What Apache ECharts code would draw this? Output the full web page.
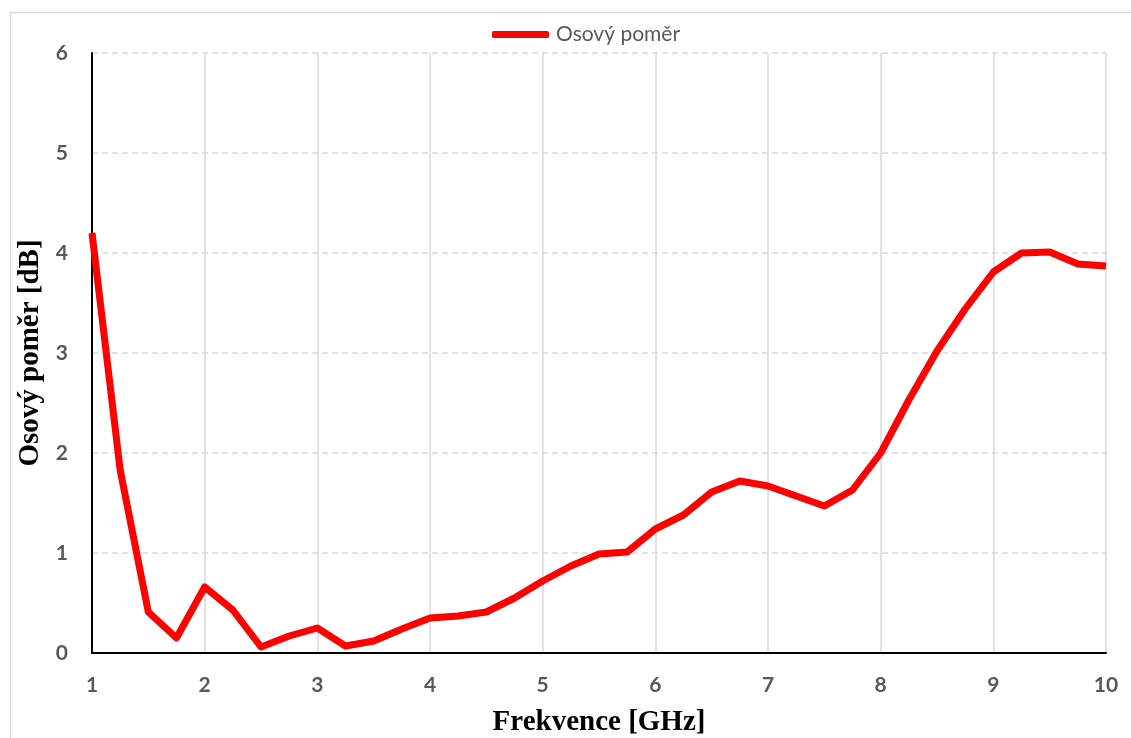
<!DOCTYPE html>
<html>
<head>
<meta charset="utf-8">
<script src="https://cdn.jsdelivr.net/npm/echarts@6/dist/echarts.min.js"></script>
<style>html,body{margin:0;padding:0;background:#fff;}#c{width:1131px;height:738px;}</style>
</head>
<body>
<div id="c"></div>
<script>
const freqs = [1,1.25,1.5,1.75,2,2.25,2.5,2.75,3,3.25,3.5,3.75,4,4.25,4.5,4.75,5,5.25,5.5,5.75,6,6.25,6.5,6.75,7,7.25,7.5,7.75,8,8.25,8.5,8.75,9,9.25,9.5,9.75,10];
const axialRatio = [4.2,1.83,0.41,0.15,0.66,0.43,0.06,0.17,0.25,0.07,0.12,0.24,0.35,0.37,0.41,0.55,0.72,0.87,0.99,1.01,1.24,1.38,1.61,1.72,1.67,1.57,1.47,1.63,2.0,2.53,3.02,3.44,3.81,4.0,4.01,3.89,3.87];
const seriesName = 'Osový poměr';
const xTitle = 'Frekvence [GHz]';
const yTitle = 'Osový poměr [dB]';

const chart = echarts.init(document.getElementById('c'));
chart.setOption({
  animation: false,
  backgroundColor: '#fff',
  graphic: [{
    type: 'rect', left: 8, top: 10, shape: {width: 1140, height: 740},
    style: {fill: 'none', stroke: '#d9d9d9', lineWidth: 1.5}, silent: true, z: -1
  }],
  legend: {
    top: 19, left: 487,
    itemWidth: 57, itemHeight: 7, itemGap: 0,
    icon: 'roundRect',
    textStyle: {fontFamily: 'Lato', fontSize: 21, color: '#595959', padding: [0,0,0,2]},
    data: [{name: seriesName, icon: 'roundRect'}]
  },
  grid: {left: 92, right: 25, top: 53, bottom: 85, containLabel: false, outerBoundsMode: 'none'},
  xAxis: {
    type: 'value', min: 1, max: 10, interval: 1,
    name: xTitle, nameLocation: 'middle', nameGap: 55,
    nameTextStyle: {fontFamily: 'Liberation Serif', fontWeight: 'bold', fontSize: 29, color: '#000'},
    axisLine: {lineStyle: {color: '#000', width: 2}},
    axisTick: {show: false},
    axisLabel: {fontFamily: 'Lato', fontWeight: 'bold', fontSize: 21, color: '#595959', margin: 22},
    splitLine: {show: true, lineStyle: {color: '#d9d9d9', width: 1.5, type: 'solid'}}
  },
  yAxis: {
    type: 'value', min: 0, max: 6, interval: 1,
    name: yTitle, nameLocation: 'middle', nameGap: 40, nameRotate: 90,
    nameTextStyle: {fontFamily: 'Liberation Serif', fontWeight: 'bold', fontSize: 29, color: '#000'},
    axisLine: {show: true, lineStyle: {color: '#000', width: 2}},
    axisTick: {show: false},
    axisLabel: {fontFamily: 'Lato', fontWeight: 'bold', fontSize: 21, color: '#595959', margin: 24},
    splitLine: {show: true, lineStyle: {color: '#d9d9d9', width: 1.5, type: [6,4]}}
  },
  series: [{
    name: seriesName, type: 'line',
    data: freqs.map((f, i) => [f, axialRatio[i]]),
    showSymbol: false, symbol: 'none',
    lineStyle: {color: '#ff0000', width: 7, join: 'round'},
    itemStyle: {color: '#ff0000'}
  }]
});
</script>
</body>
</html>
